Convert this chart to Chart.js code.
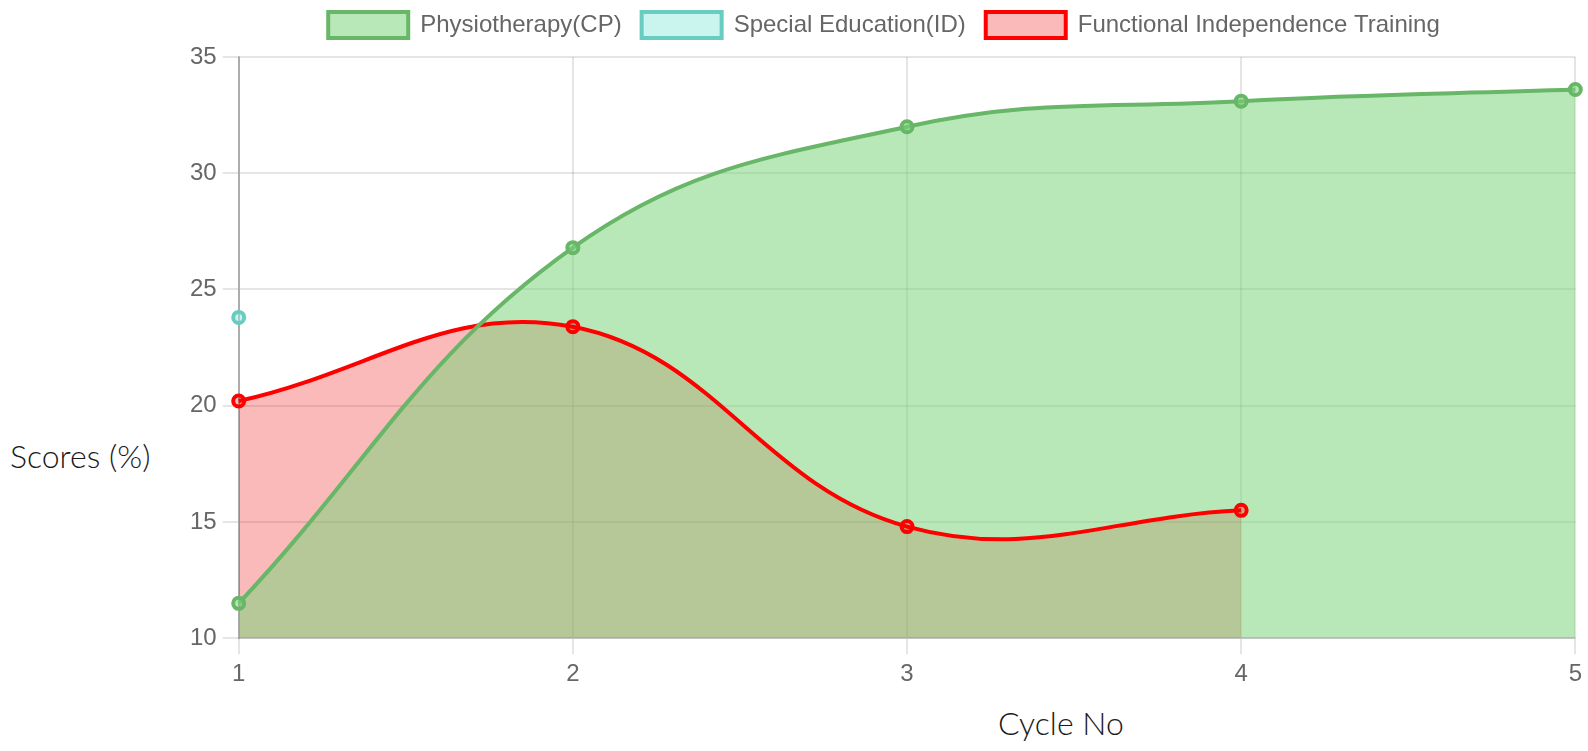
<!DOCTYPE html>
<html>
<head>
<meta charset="utf-8">
<script src="https://cdn.jsdelivr.net/npm/chart.js@4"></script>
<style>
    html, body { margin: 0; padding: 0; background: #fff; }
    body { width: 1588px; height: 751px; position: relative; overflow: hidden; }
    #wrap { position: absolute; left: 180px; top: -8px; width: 1408px; height: 703px; }
    .axis-title { position: absolute; font-family: Lato, sans-serif; font-weight: 300; font-size: 32px; color: #1a1a1a; white-space: nowrap; }
    #ytitle { left: 10px; top: 436px; }
    #xtitle { left: 998px; top: 703px; }
</style>
</head>
<body>
<div id="wrap"><canvas id="scoreChart"></canvas></div>
<div id="ytitle" class="axis-title">Scores (%)</div>
<div id="xtitle" class="axis-title">Cycle No</div>
<script>
// Chart data
const cycles = ["1", "2", "3", "4", "5"];
const physioScores = [11.5, 26.8, 32.0, 33.1, 33.6];
const specialEdScores = [23.8];
const independenceScores = [20.2, 23.4, 14.8, 15.5];
const yTicks = { min: 10, max: 35, step: 5 };

Chart.defaults.font.family = "'Liberation Sans', Arial, sans-serif";
Chart.defaults.font.size = 24;
Chart.defaults.color = "#666";

const gridColor = "rgba(0,0,0,0.1)";

// a bit more room between legend and plot, legend nudged right
const legendGap = {
    id: "legendGap",
    beforeInit(chart) {
        const fit = chart.legend.fit;
        chart.legend.fit = function () {
            fit.call(this);
            this.height += 9;
        };
    },
    afterLayout(chart) {
        chart.legend.left += 4;
        chart.legend.right += 4;
    }
};

new Chart(document.getElementById("scoreChart"), {
    type: "line",
    data: {
        labels: cycles,
        datasets: [
            {
                label: "Physiotherapy(CP)",
                data: physioScores,
                borderColor: "rgb(104,182,104)",
                backgroundColor: "rgba(121,211,121,0.53)",
                fill: "origin"
            },
            {
                label: "Special Education(ID)",
                data: specialEdScores,
                borderColor: "rgb(104,204,192)",
                backgroundColor: "rgba(150,235,224,0.5)",
                fill: "origin"
            },
            {
                label: "Functional Independence Training",
                data: independenceScores,
                borderColor: "rgb(255,0,0)",
                backgroundColor: "rgba(235,0,0,0.27)",
                fill: "origin"
            }
        ]
    },
    options: {
        responsive: true,
        maintainAspectRatio: false,
        animation: false,
        layout: { padding: { left: 4, right: 12 } },
        elements: {
            line: { tension: 0.4, borderWidth: 4 },
            point: { radius: 5.5, borderWidth: 4, hoverRadius: 6 }
        },
        plugins: {
            filler: { drawTime: "beforeDatasetsDraw" },
            legend: {
                labels: { boxWidth: 80, boxHeight: 26, padding: 20 }
            },
            tooltip: { enabled: false }
        },
        scales: {
            x: {
                grid: { color: gridColor, lineWidth: 2, tickLength: 16 },
                border: { color: "rgba(0,0,0,0.15)", width: 2 },
                ticks: { padding: 6 }
            },
            y: {
                min: yTicks.min,
                max: yTicks.max,
                grid: { color: gridColor, lineWidth: 2, tickLength: 16 },
                border: { color: "rgba(0,0,0,0.25)", width: 2 },
                ticks: { stepSize: yTicks.step, padding: 6 }
            }
        }
    },
    plugins: [legendGap]
});
</script>
</body>
</html>
